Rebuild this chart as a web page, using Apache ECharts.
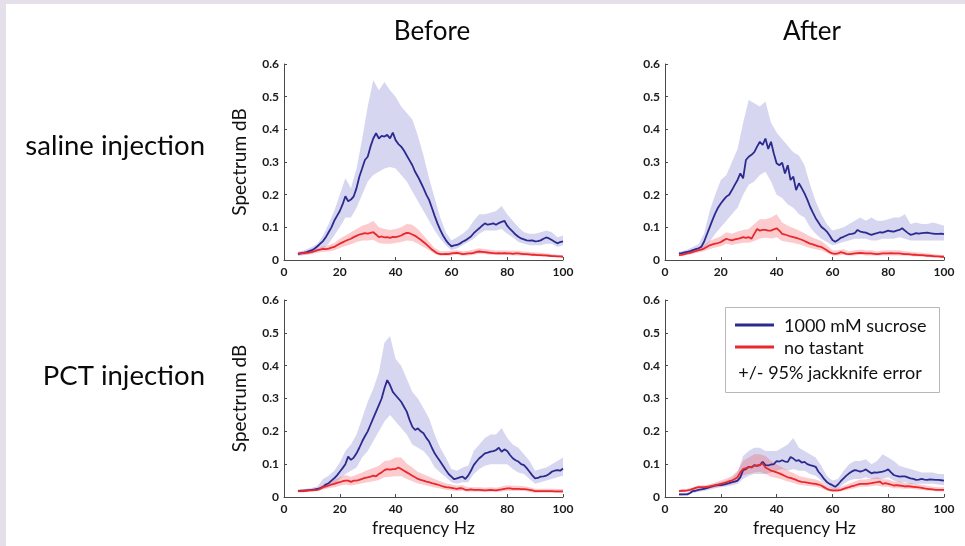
<!DOCTYPE html>
<html>
<head>
<meta charset="utf-8">
<script src="https://cdn.jsdelivr.net/npm/echarts@6/dist/echarts.min.js"></script>
<style>
  html, body { margin: 0; padding: 0; background: #ffffff; }
  #frameTop { position: absolute; left: 0; top: 0; width: 965px; height: 4px; background: #e5dfe9; }
  #frameLeft { position: absolute; left: 0; top: 0; width: 6px; height: 546px; background: #e5dfe9; }
  #chart { position: absolute; left: 0; top: 0; width: 965px; height: 546px; }
</style>
</head>
<body>
<div id="frameTop"></div>
<div id="frameLeft"></div>
<div id="chart"></div>
<script>
// Frequency grid (Hz) for the mean spectra
var freq = [
  5,6,7,8,9,10,11,12,13,14,
  15,16,17,18,19,20,21,22,23,24,
  25,26,27,28,29,30,31,32,33,34,
  35,36,37,38,39,40,41,42,43,44,
  45,46,47,48,49,50,51,52,53,54,
  55,56,57,58,59,60,61,62,63,64,
  65,66,67,68,69,70,71,72,73,74,
  75,76,77,78,79,80,81,82,83,84,
  85,86,87,88,89,90,91,92,93,94,
  95,96,97,98,99,100
];
// Frequency grid (Hz) for the jackknife error bands
var freqBand = [
  5,6,8,10,12,14,16,18,20,22,
  24,26,28,30,32,34,36,38,40,42,
  44,46,48,50,52,54,56,58,60,62,
  64,66,68,70,72,74,76,78,80,82,
  84,86,88,90,92,94,96,98,100
];

// Saline injection, before
var salineBeforeSucrose = [
  0.018,0.02,0.022,0.024,0.027,0.03,0.035,0.042,0.05,0.058,
  0.07,0.085,0.1,0.12,0.135,0.15,0.17,0.195,0.18,0.185,
  0.195,0.22,0.255,0.28,0.306,0.316,0.347,0.372,0.388,0.372,
  0.38,0.378,0.383,0.372,0.39,0.367,0.355,0.347,0.335,0.32,
  0.305,0.29,0.27,0.255,0.238,0.22,0.2,0.184,0.16,0.135,
  0.112,0.092,0.075,0.061,0.05,0.042,0.045,0.046,0.05,0.056,
  0.06,0.066,0.072,0.082,0.09,0.097,0.105,0.112,0.108,0.11,
  0.112,0.108,0.113,0.117,0.12,0.105,0.095,0.087,0.078,0.071,
  0.066,0.063,0.06,0.059,0.06,0.057,0.058,0.06,0.065,0.069,
  0.066,0.061,0.056,0.051,0.055,0.057
];
var salineBeforeNone = [
  0.02,0.02,0.021,0.022,0.023,0.025,0.027,0.03,0.032,0.034,
  0.033,0.035,0.038,0.04,0.045,0.05,0.054,0.058,0.062,0.065,
  0.07,0.074,0.078,0.08,0.082,0.081,0.083,0.085,0.078,0.07,
  0.072,0.069,0.07,0.068,0.071,0.07,0.072,0.075,0.08,0.083,
  0.082,0.078,0.074,0.068,0.062,0.055,0.048,0.04,0.032,0.026,
  0.02,0.018,0.018,0.019,0.018,0.02,0.021,0.022,0.02,0.018,
  0.019,0.02,0.02,0.022,0.025,0.026,0.025,0.024,0.023,0.022,
  0.021,0.02,0.021,0.02,0.021,0.02,0.02,0.019,0.02,0.02,
  0.019,0.018,0.018,0.017,0.016,0.016,0.015,0.015,0.014,0.014,
  0.013,0.012,0.012,0.011,0.011,0.01
];
var salineBeforeSucroseHi = [
  0.025,0.027,0.032,0.04,0.05,0.075,0.11,0.15,0.2,0.25,
  0.22,0.28,0.37,0.47,0.55,0.52,0.545,0.52,0.5,0.47,
  0.45,0.43,0.38,0.32,0.25,0.19,0.13,0.085,0.06,0.07,
  0.08,0.095,0.12,0.14,0.14,0.145,0.15,0.165,0.14,0.12,
  0.1,0.085,0.08,0.08,0.085,0.09,0.085,0.07,0.075
];
var salineBeforeSucroseLo = [
  0.012,0.013,0.016,0.02,0.027,0.035,0.05,0.075,0.1,0.13,
  0.13,0.16,0.2,0.24,0.26,0.27,0.28,0.285,0.28,0.26,
  0.24,0.21,0.18,0.15,0.12,0.09,0.065,0.045,0.03,0.035,
  0.045,0.055,0.065,0.08,0.09,0.09,0.09,0.095,0.08,0.07,
  0.055,0.05,0.045,0.045,0.045,0.05,0.05,0.04,0.045
];
var salineBeforeNoneHi = [
  0.025,0.025,0.027,0.03,0.035,0.042,0.045,0.052,0.065,0.075,
  0.085,0.095,0.105,0.11,0.12,0.1,0.095,0.092,0.095,0.1,
  0.11,0.108,0.095,0.075,0.055,0.037,0.027,0.027,0.028,0.03,
  0.027,0.028,0.032,0.036,0.034,0.031,0.029,0.029,0.029,0.028,
  0.028,0.026,0.025,0.023,0.022,0.02,0.018,0.016,0.015
];
var salineBeforeNoneLo = [
  0.015,0.015,0.016,0.018,0.022,0.025,0.026,0.03,0.037,0.043,
  0.048,0.055,0.06,0.06,0.062,0.052,0.05,0.05,0.052,0.055,
  0.06,0.058,0.05,0.04,0.03,0.019,0.013,0.013,0.014,0.016,
  0.013,0.014,0.016,0.019,0.018,0.016,0.015,0.015,0.015,0.014,
  0.014,0.013,0.012,0.012,0.011,0.01,0.009,0.008,0.007
];

// Saline injection, after
var salineAfterSucrose = [
  0.02,0.021,0.023,0.025,0.027,0.03,0.033,0.036,0.04,0.056,
  0.078,0.1,0.122,0.143,0.16,0.173,0.184,0.194,0.2,0.214,
  0.23,0.245,0.265,0.25,0.306,0.316,0.322,0.33,0.347,0.362,
  0.352,0.372,0.34,0.362,0.326,0.296,0.29,0.298,0.265,0.29,
  0.245,0.255,0.214,0.235,0.22,0.204,0.185,0.163,0.145,0.128,
  0.115,0.102,0.095,0.087,0.075,0.061,0.056,0.061,0.068,0.071,
  0.075,0.079,0.08,0.082,0.092,0.087,0.085,0.084,0.08,0.077,
  0.08,0.082,0.085,0.084,0.087,0.09,0.088,0.087,0.09,0.092,
  0.097,0.09,0.083,0.077,0.079,0.082,0.081,0.082,0.083,0.084,
  0.082,0.081,0.08,0.08,0.081,0.079
];
var salineAfterNone = [
  0.015,0.016,0.018,0.02,0.022,0.025,0.027,0.03,0.032,0.035,
  0.04,0.045,0.048,0.05,0.052,0.055,0.06,0.065,0.062,0.06,
  0.063,0.065,0.067,0.07,0.068,0.07,0.065,0.08,0.095,0.09,
  0.092,0.092,0.09,0.09,0.094,0.097,0.09,0.08,0.078,0.075,
  0.072,0.07,0.068,0.065,0.062,0.058,0.054,0.05,0.048,0.045,
  0.042,0.04,0.035,0.03,0.024,0.02,0.019,0.02,0.024,0.022,
  0.019,0.018,0.019,0.02,0.021,0.022,0.021,0.02,0.02,0.02,
  0.019,0.018,0.019,0.02,0.02,0.02,0.021,0.02,0.02,0.02,
  0.019,0.018,0.018,0.017,0.016,0.016,0.015,0.015,0.014,0.013,
  0.013,0.012,0.011,0.011,0.01,0.01
];
var salineAfterSucroseHi = [
  0.025,0.027,0.032,0.04,0.048,0.08,0.15,0.2,0.245,0.26,
  0.3,0.34,0.42,0.49,0.48,0.47,0.485,0.42,0.39,0.37,
  0.35,0.33,0.32,0.29,0.23,0.18,0.14,0.11,0.09,0.095,
  0.1,0.11,0.12,0.13,0.12,0.13,0.12,0.12,0.125,0.13,
  0.13,0.14,0.11,0.115,0.11,0.11,0.115,0.11,0.105
];
var salineAfterSucroseLo = [
  0.015,0.016,0.019,0.023,0.027,0.035,0.055,0.08,0.1,0.12,
  0.14,0.16,0.2,0.23,0.24,0.26,0.27,0.24,0.2,0.19,
  0.17,0.16,0.14,0.13,0.1,0.08,0.065,0.055,0.045,0.05,
  0.055,0.06,0.065,0.065,0.065,0.06,0.06,0.065,0.065,0.065,
  0.07,0.065,0.06,0.06,0.06,0.06,0.06,0.06,0.06
];
var salineAfterNoneHi = [
  0.02,0.021,0.026,0.032,0.038,0.045,0.058,0.066,0.073,0.085,
  0.08,0.087,0.092,0.095,0.11,0.125,0.125,0.13,0.14,0.115,
  0.105,0.098,0.09,0.082,0.072,0.065,0.058,0.045,0.03,0.03,
  0.033,0.027,0.03,0.032,0.03,0.03,0.027,0.029,0.03,0.03,
  0.03,0.027,0.025,0.024,0.022,0.02,0.018,0.016,0.015
];
var salineAfterNoneLo = [
  0.011,0.012,0.015,0.019,0.023,0.027,0.034,0.038,0.042,0.05,
  0.046,0.05,0.053,0.053,0.058,0.066,0.068,0.066,0.07,0.058,
  0.055,0.052,0.048,0.043,0.037,0.033,0.029,0.022,0.014,0.014,
  0.016,0.013,0.014,0.016,0.014,0.014,0.013,0.014,0.014,0.014,
  0.014,0.013,0.012,0.011,0.01,0.009,0.008,0.008,0.007
];

// PCT injection, before
var pctBeforeSucrose = [
  0.018,0.019,0.019,0.02,0.021,0.022,0.023,0.025,0.027,0.031,
  0.038,0.042,0.05,0.057,0.066,0.077,0.088,0.1,0.123,0.113,
  0.12,0.133,0.15,0.169,0.185,0.2,0.22,0.24,0.26,0.28,
  0.3,0.331,0.356,0.341,0.32,0.31,0.3,0.29,0.275,0.26,
  0.235,0.214,0.204,0.209,0.2,0.194,0.18,0.169,0.15,0.133,
  0.12,0.108,0.095,0.082,0.07,0.062,0.054,0.057,0.06,0.062,
  0.055,0.065,0.08,0.097,0.108,0.118,0.125,0.133,0.135,0.138,
  0.14,0.143,0.15,0.138,0.145,0.14,0.128,0.118,0.112,0.108,
  0.1,0.097,0.088,0.077,0.066,0.057,0.058,0.062,0.063,0.065,
  0.07,0.077,0.08,0.082,0.08,0.087
];
var pctBeforeNone = [
  0.018,0.018,0.019,0.019,0.02,0.02,0.021,0.022,0.025,0.03,
  0.032,0.035,0.038,0.04,0.043,0.045,0.048,0.05,0.05,0.046,
  0.05,0.05,0.052,0.055,0.058,0.06,0.062,0.065,0.063,0.07,
  0.075,0.082,0.085,0.083,0.085,0.085,0.09,0.085,0.08,0.075,
  0.07,0.065,0.06,0.055,0.052,0.05,0.047,0.045,0.042,0.04,
  0.038,0.035,0.032,0.03,0.029,0.028,0.026,0.025,0.027,0.026,
  0.022,0.022,0.023,0.022,0.022,0.022,0.021,0.02,0.021,0.022,
  0.021,0.02,0.022,0.023,0.025,0.026,0.026,0.025,0.025,0.025,
  0.024,0.024,0.023,0.022,0.02,0.018,0.018,0.018,0.018,0.018,
  0.018,0.018,0.017,0.017,0.017,0.017
];
var pctBeforeSucroseHi = [
  0.022,0.023,0.025,0.028,0.032,0.055,0.065,0.08,0.105,0.14,
  0.16,0.19,0.24,0.29,0.33,0.38,0.47,0.49,0.42,0.4,
  0.36,0.32,0.3,0.27,0.24,0.19,0.15,0.12,0.085,0.08,
  0.09,0.095,0.14,0.16,0.18,0.19,0.19,0.21,0.18,0.16,
  0.15,0.13,0.11,0.08,0.085,0.09,0.1,0.11,0.12
];
var pctBeforeSucroseLo = [
  0.014,0.015,0.016,0.018,0.02,0.025,0.03,0.04,0.055,0.07,
  0.08,0.09,0.12,0.14,0.17,0.2,0.23,0.25,0.23,0.21,
  0.19,0.16,0.15,0.14,0.12,0.09,0.075,0.06,0.045,0.04,
  0.045,0.045,0.07,0.085,0.095,0.1,0.1,0.1,0.1,0.085,
  0.075,0.07,0.055,0.04,0.045,0.05,0.055,0.06,0.065
];
var pctBeforeNoneHi = [
  0.022,0.022,0.023,0.024,0.027,0.038,0.045,0.052,0.06,0.067,
  0.062,0.068,0.075,0.082,0.088,0.095,0.11,0.112,0.12,0.12,
  0.102,0.09,0.076,0.069,0.062,0.055,0.048,0.042,0.038,0.035,
  0.036,0.03,0.03,0.03,0.028,0.03,0.028,0.032,0.036,0.034,
  0.034,0.033,0.03,0.025,0.025,0.025,0.025,0.024,0.024
];
var pctBeforeNoneLo = [
  0.014,0.014,0.015,0.016,0.018,0.023,0.027,0.03,0.034,0.038,
  0.035,0.038,0.042,0.045,0.048,0.052,0.06,0.062,0.063,0.063,
  0.055,0.048,0.041,0.037,0.033,0.029,0.026,0.022,0.02,0.018,
  0.019,0.016,0.016,0.016,0.015,0.016,0.015,0.017,0.019,0.018,
  0.018,0.018,0.016,0.013,0.013,0.013,0.013,0.012,0.012
];

// PCT injection, after
var pctAfterSucrose = [
  0.008,0.008,0.008,0.008,0.012,0.018,0.019,0.022,0.023,0.025,
  0.027,0.03,0.032,0.035,0.036,0.036,0.038,0.04,0.042,0.045,
  0.047,0.05,0.06,0.082,0.085,0.092,0.09,0.097,0.095,0.097,
  0.107,0.097,0.096,0.099,0.1,0.109,0.108,0.112,0.108,0.107,
  0.122,0.117,0.11,0.112,0.105,0.107,0.1,0.097,0.095,0.092,
  0.077,0.067,0.055,0.046,0.04,0.036,0.031,0.038,0.048,0.057,
  0.065,0.072,0.078,0.082,0.08,0.077,0.08,0.084,0.078,0.072,
  0.075,0.074,0.076,0.077,0.08,0.084,0.075,0.067,0.064,0.062,
  0.063,0.063,0.06,0.057,0.055,0.052,0.053,0.055,0.053,0.052,
  0.054,0.053,0.052,0.052,0.051,0.05
];
var pctAfterNone = [
  0.018,0.019,0.019,0.02,0.022,0.025,0.028,0.03,0.03,0.03,
  0.031,0.032,0.034,0.036,0.038,0.04,0.042,0.045,0.048,0.05,
  0.055,0.06,0.075,0.085,0.088,0.09,0.092,0.095,0.096,0.098,
  0.102,0.09,0.085,0.08,0.078,0.075,0.072,0.068,0.064,0.06,
  0.058,0.055,0.052,0.048,0.046,0.045,0.044,0.042,0.041,0.04,
  0.038,0.035,0.03,0.025,0.022,0.02,0.02,0.02,0.022,0.025,
  0.028,0.03,0.033,0.035,0.038,0.04,0.04,0.04,0.041,0.042,
  0.044,0.045,0.047,0.04,0.042,0.04,0.038,0.035,0.036,0.035,
  0.034,0.032,0.033,0.032,0.031,0.03,0.029,0.028,0.026,0.025,
  0.024,0.023,0.022,0.022,0.022,0.022
];
var pctAfterSucroseHi = [
  0.012,0.012,0.014,0.022,0.026,0.03,0.036,0.04,0.045,0.05,
  0.058,0.075,0.125,0.14,0.15,0.15,0.14,0.14,0.14,0.15,
  0.16,0.18,0.15,0.14,0.13,0.12,0.095,0.065,0.05,0.055,
  0.08,0.1,0.11,0.11,0.115,0.1,0.11,0.13,0.12,0.11,
  0.095,0.09,0.085,0.08,0.075,0.075,0.075,0.07,0.07
];
var pctAfterSucroseLo = [
  0.004,0.004,0.005,0.012,0.015,0.018,0.022,0.027,0.03,0.032,
  0.035,0.04,0.055,0.065,0.07,0.07,0.07,0.075,0.08,0.085,
  0.08,0.085,0.08,0.08,0.07,0.065,0.05,0.035,0.025,0.025,
  0.04,0.05,0.055,0.055,0.06,0.055,0.055,0.055,0.06,0.05,
  0.045,0.045,0.04,0.04,0.04,0.04,0.04,0.038,0.036
];
var pctAfterNoneHi = [
  0.022,0.023,0.025,0.03,0.036,0.036,0.039,0.044,0.05,0.056,
  0.064,0.08,0.11,0.12,0.13,0.13,0.125,0.11,0.1,0.09,
  0.08,0.073,0.064,0.06,0.056,0.053,0.047,0.034,0.028,0.028,
  0.034,0.04,0.047,0.053,0.053,0.056,0.06,0.054,0.053,0.047,
  0.047,0.043,0.043,0.04,0.037,0.034,0.031,0.03,0.03
];
var pctAfterNoneLo = [
  0.014,0.015,0.016,0.02,0.024,0.024,0.026,0.029,0.032,0.036,
  0.04,0.046,0.066,0.07,0.075,0.077,0.07,0.062,0.058,0.053,
  0.047,0.043,0.037,0.035,0.033,0.031,0.027,0.019,0.015,0.015,
  0.019,0.023,0.027,0.031,0.031,0.033,0.035,0.031,0.031,0.027,
  0.027,0.025,0.025,0.023,0.022,0.019,0.018,0.017,0.017
];

// Axis ticks
var freqTicks = [0, 20, 40, 60, 80, 100];
var spectrumTicks = [0, 0.1, 0.2, 0.3, 0.4, 0.5, 0.6];

var columnTitles = ['Before', 'After'];
var rowTitles = ['saline injection', 'PCT injection'];
var seriesNames = ['1000 mM sucrose', 'no tastant'];
var bandNote = '+/- 95% jackknife error';

var panelData = [
  { sucrose: salineBeforeSucrose, none: salineBeforeNone,
    sucroseHi: salineBeforeSucroseHi, sucroseLo: salineBeforeSucroseLo,
    noneHi: salineBeforeNoneHi, noneLo: salineBeforeNoneLo },
  { sucrose: salineAfterSucrose, none: salineAfterNone,
    sucroseHi: salineAfterSucroseHi, sucroseLo: salineAfterSucroseLo,
    noneHi: salineAfterNoneHi, noneLo: salineAfterNoneLo },
  { sucrose: pctBeforeSucrose, none: pctBeforeNone,
    sucroseHi: pctBeforeSucroseHi, sucroseLo: pctBeforeSucroseLo,
    noneHi: pctBeforeNoneHi, noneLo: pctBeforeNoneLo },
  { sucrose: pctAfterSucrose, none: pctAfterNone,
    sucroseHi: pctAfterSucroseHi, sucroseLo: pctAfterSucroseLo,
    noneHi: pctAfterNoneHi, noneLo: pctAfterNoneLo }
];

// Layout and styling
var FONT = 'Lato';
var BLUE = '#2c2a8f';
var RED = '#e8282d';
var BLUE_BAND = 'rgba(96, 96, 196, 0.26)';
var RED_BAND = 'rgba(242, 70, 80, 0.28)';
var AXIS_COLOR = '#4a4a4a';

var grids = [
  { left: 284, top: 64, width: 279, height: 196 },
  { left: 665, top: 64, width: 279, height: 196 },
  { left: 284, top: 300, width: 279, height: 197 },
  { left: 665, top: 300, width: 279, height: 197 }
];

function pairs(xs, ys) {
  var out = [];
  var n = Math.min(xs.length, ys.length);
  for (var i = 0; i < n; i++) out.push([xs[i], ys[i]]);
  return out;
}

// Shaded error band between lower and upper bounds, drawn in axis coordinates
function bandSeries(gi, xs, lo, hi, color) {
  var n = Math.min(xs.length, lo.length, hi.length);
  return {
    type: 'custom',
    coordinateSystem: 'cartesian2d',
    xAxisIndex: gi,
    yAxisIndex: gi,
    silent: true,
    z: 1,
    clip: true,
    data: [[xs[0], lo[0]]],
    renderItem: function (params, api) {
      var pts = [];
      for (var i = 0; i < n; i++) pts.push(api.coord([xs[i], hi[i]]));
      for (var j = n - 1; j >= 0; j--) pts.push(api.coord([xs[j], lo[j]]));
      return { type: 'polygon', shape: { points: pts }, style: { fill: color, stroke: null } };
    }
  };
}

function lineSeries(gi, name, xs, ys, color, z) {
  return {
    type: 'line',
    name: name,
    xAxisIndex: gi,
    yAxisIndex: gi,
    data: pairs(xs, ys),
    showSymbol: false,
    symbol: 'none',
    z: z,
    lineStyle: { color: color, width: 1.8 },
    itemStyle: { color: color },
    silent: true
  };
}

var xAxes = [], yAxes = [], series = [];
grids.forEach(function (g, gi) {
  xAxes.push({
    gridIndex: gi,
    type: 'value',
    min: freqTicks[0],
    max: freqTicks[freqTicks.length - 1],
    interval: freqTicks[1] - freqTicks[0],
    axisLine: { lineStyle: { color: AXIS_COLOR, width: 1 } },
    axisTick: { inside: true, length: 3, lineStyle: { color: AXIS_COLOR } },
    axisLabel: { color: '#1a1a1a', fontSize: 12, fontWeight: 'bold', fontFamily: FONT, margin: 6 },
    splitLine: { show: false },
    name: gi >= 2 ? 'frequency Hz' : '',
    nameLocation: 'middle',
    nameGap: 22,
    nameTextStyle: { fontSize: 17.5, color: '#111', fontFamily: FONT }
  });
  yAxes.push({
    gridIndex: gi,
    type: 'value',
    min: spectrumTicks[0],
    max: spectrumTicks[spectrumTicks.length - 1],
    interval: 0.1,
    axisLine: { show: true, lineStyle: { color: AXIS_COLOR, width: 1 } },
    axisTick: { show: true, inside: true, length: 3, lineStyle: { color: AXIS_COLOR } },
    axisLabel: {
      color: '#1a1a1a', fontSize: 12, fontWeight: 'bold', fontFamily: FONT, margin: 5,
      formatter: function (v) { return v === 0 ? '0' : v.toFixed(1); }
    },
    splitLine: { show: false },
    name: (gi % 2 === 0) ? 'Spectrum dB' : '',
    nameLocation: 'middle',
    nameGap: 35,
    nameTextStyle: { fontSize: 19, color: '#111', fontFamily: FONT }
  });
  var d = panelData[gi];
  series.push(bandSeries(gi, freqBand, d.sucroseLo, d.sucroseHi, BLUE_BAND));
  series.push(bandSeries(gi, freqBand, d.noneLo, d.noneHi, RED_BAND));
  series.push(lineSeries(gi, seriesNames[0], freq, d.sucrose, BLUE, 3));
  series.push(lineSeries(gi, seriesNames[1], freq, d.none, RED, 4));
});

var headFont = '26px ' + FONT;
var rowFont = '27.5px ' + FONT;
var legendFont = '18px ' + FONT;

var graphics = [
  // column headings
  { type: 'text', x: 432, y: 32, style: { text: columnTitles[0], font: headFont, fill: '#0a0a0a', align: 'center', verticalAlign: 'middle' } },
  { type: 'text', x: 812, y: 32, style: { text: columnTitles[1], font: headFont, fill: '#0a0a0a', align: 'center', verticalAlign: 'middle' } },
  // row headings
  { type: 'text', x: 205, y: 146, style: { text: rowTitles[0], font: rowFont, fill: '#0a0a0a', align: 'right', verticalAlign: 'middle' } },
  { type: 'text', x: 205, y: 376, style: { text: rowTitles[1], font: rowFont, fill: '#0a0a0a', align: 'right', verticalAlign: 'middle' } },
  // legend box
  { type: 'rect', shape: { x: 725.5, y: 307.5, width: 214, height: 85 }, style: { fill: '#ffffff', stroke: '#b8b8b8', lineWidth: 1 }, z: 10 },
  { type: 'line', shape: { x1: 735, y1: 325, x2: 774, y2: 325 }, style: { stroke: BLUE, lineWidth: 3 }, z: 11 },
  { type: 'text', x: 784, y: 326, style: { text: seriesNames[0], font: legendFont, fill: '#111', align: 'left', verticalAlign: 'middle' }, z: 11 },
  { type: 'line', shape: { x1: 735, y1: 347, x2: 774, y2: 347 }, style: { stroke: RED, lineWidth: 3 }, z: 11 },
  { type: 'text', x: 784, y: 348, style: { text: seriesNames[1], font: legendFont, fill: '#111', align: 'left', verticalAlign: 'middle' }, z: 11 },
  { type: 'text', x: 830, y: 373, style: { text: bandNote, font: legendFont, fill: '#111', align: 'center', verticalAlign: 'middle' }, z: 11 }
];

var chart = echarts.init(document.getElementById('chart'), null, { renderer: 'canvas' });
chart.setOption({
  animation: false,
  backgroundColor: 'transparent',
  grid: grids.map(function (g) { return { left: g.left, top: g.top, width: g.width, height: g.height, containLabel: false }; }),
  xAxis: xAxes,
  yAxis: yAxes,
  series: series,
  graphic: graphics
});
</script>
</body>
</html>
